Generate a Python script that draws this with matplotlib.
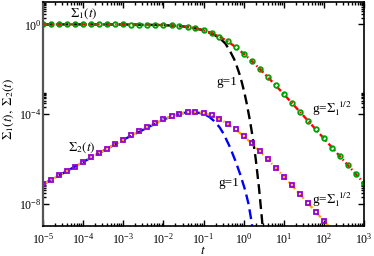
import matplotlib
matplotlib.use("Agg")
import matplotlib.pyplot as plt
from matplotlib.ticker import FixedLocator, LogLocator, NullFormatter, LogFormatterMathtext

plt.rcParams['font.family'] = 'serif'
plt.rcParams['font.serif'] = ['Liberation Serif', 'DejaVu Serif']
plt.rcParams['mathtext.fontset'] = 'stix'

# ---- data ----
# sampling times for markers / dash-dot curves (g = Sigma_1^{1/2})
t_pts = [1e-5, 1.6e-5, 2.5e-5, 4e-5, 6.3e-5,
         1e-4, 1.6e-4, 2.5e-4, 4e-4, 6.3e-4,
         1e-3, 1.6e-3, 2.5e-3, 4e-3, 6.3e-3,
         1e-2, 1.6e-2, 2.5e-2, 4e-2, 6.3e-2,
         0.1, 0.16, 0.25, 0.4, 0.63,
         1.0, 1.6, 2.5, 4.0, 6.3,
         10, 16, 25, 40, 63,
         100, 160, 250, 400, 630, 1000]
sigma1_sqrt = [1.0, 1.0, 1.0, 1.0, 1.0,
               1.0, 0.999, 0.998, 0.997, 0.996,
               0.993, 0.989, 0.983, 0.972, 0.957,
               0.934, 0.897, 0.846, 0.769, 0.671,
               0.549, 0.411, 0.284, 0.174, 0.0974,
               0.0494, 0.0230, 0.0105, 4.44e-3, 1.88e-3,
               7.72e-4, 3.08e-4, 1.277e-4, 5.03e-5, 2.04e-5,
               8.12e-6, 3.18e-6, 1.30e-6, 5.09e-7, 2.05e-7, 8.16e-8]
sigma2_sqrt = [7.2e-8, 1.15e-7, 1.8e-7, 2.88e-7, 4.53e-7,
               7.19e-7, 1.15e-6, 1.79e-6, 2.86e-6, 4.48e-6,
               7.03e-6, 1.109e-5, 1.695e-5, 2.61e-5, 3.90e-5,
               5.69e-5, 7.95e-5, 1.021e-4, 1.205e-4, 1.247e-4,
               1.115e-4, 8.6e-5, 5.96e-5, 3.65e-5, 2.05e-5,
               1.04e-5, 4.83e-6, 2.21e-6, 9.32e-7, 3.95e-7,
               1.62e-7, 6.47e-8, 2.68e-8, 1.056e-8, 4.28e-9,
               1.7e-9, 6.7e-10, 2.7e-10, 1.07e-10, 4.3e-11, 1.7e-11]

# g = 1 curves
t_g1_s1 = [1e-5, 1e-4, 1e-3, 1e-2, 0.03, 0.06, 0.1, 0.17, 0.25, 0.35,
           0.46, 0.58, 0.68, 0.8, 0.9, 1.05, 1.2, 1.45, 1.7, 2.0, 2.4, 2.8, 3.1]
sigma1_g1 = [1.0, 1.0, 0.993, 0.932, 0.82, 0.68, 0.545, 0.37, 0.251, 0.141,
             0.0631, 0.0282, 0.0132, 5.62e-3, 2.63e-3, 8.7e-4, 2.82e-4, 4.68e-5,
             7.94e-6, 1.0e-6, 5.62e-8, 3.16e-9, 3.98e-10]
t_g1_s2 = [1e-5, 1e-4, 1e-3, 1e-2, 2.5e-2, 4e-2, 6.3e-2, 0.1, 0.14, 0.178,
           0.25, 0.316, 0.457, 0.617, 0.813, 1.096, 1.318, 1.585, 1.8]
sigma2_g1 = [7.2e-8, 7.19e-7, 7.03e-6, 5.69e-5, 1.02e-4, 1.19e-4, 1.21e-4,
             1.02e-4, 7.4e-5, 5.1e-5, 2.6e-5, 1.32e-5, 3.3e-6, 8.5e-7,
             2.14e-7, 3.9e-8, 1.0e-8, 1.48e-9, 2e-10]

x_major = [1e-5, 1e-4, 1e-3, 1e-2, 1e-1, 1e0, 1e1, 1e2, 1e3]
y_major = [1e-8, 1e-4, 1e0]

# ---- figure ----
fig = plt.figure(figsize=(3.74, 2.56), dpi=100)
ax = fig.add_axes([43/374, 1-226/256, (364-43)/374, (226-2)/256])
ax.set_xscale('log')
ax.set_yscale('log')
ax.set_xlim(1e-5, 1e3)
ax.set_ylim(1e-9, 1e1)

ax.plot(t_g1_s1, sigma1_g1, color='black', lw=1.7, dashes=(4.2, 2.2))
ax.plot(t_g1_s2, sigma2_g1, color='#0000ff', lw=1.7, dashes=(4.2, 2.2))
ax.plot(t_pts, sigma1_sqrt, color='#ff0000', lw=1.7, dashes=(2.4, 1.2, 0.6, 1.2))
ax.plot(t_pts, sigma2_sqrt, color='#ffa500', lw=1.7, dashes=(2.4, 1.2, 0.6, 1.2))
ax.plot(t_pts, sigma1_sqrt, ls='none', marker='o', ms=3.3, mfc='none',
        mec='#00a000', mew=1.3)
ax.plot(t_pts, sigma2_sqrt, ls='none', marker='s', ms=3.0, mfc='none',
        mec='#9400d3', mew=1.3)

# ticks
ax.xaxis.set_major_locator(FixedLocator(x_major))
ax.xaxis.set_minor_locator(LogLocator(base=10, subs=[2, 3, 4, 5, 6, 7, 8, 9], numticks=20))
ax.xaxis.set_major_formatter(LogFormatterMathtext())
ax.xaxis.set_minor_formatter(NullFormatter())
ax.yaxis.set_major_locator(FixedLocator(y_major))
ymin = [k * m for m in y_major for k in range(2, 10)]
ax.yaxis.set_minor_locator(FixedLocator(ymin))
ax.yaxis.set_major_formatter(LogFormatterMathtext())
ax.yaxis.set_minor_formatter(NullFormatter())
ax.tick_params(which='both', direction='in', top=True, right=True, width=1.0)
ax.tick_params(which='major', length=4.5, labelsize=8.5)
ax.tick_params(which='minor', length=2.3)
ax.tick_params(axis='x', which='major', pad=4)
ax.tick_params(axis='y', which='major', pad=1)

for s in ['top', 'bottom', 'right']:
    ax.spines[s].set_linewidth(1.2)
ax.spines['left'].set_linewidth(1.6)
ax.spines['left'].set_color('#555555')

# labels
fs = 9.5
ax.text(1.05e-4, 3.1, r'$\Sigma_1(t)$', fontsize=fs, ha='center', va='center')
ax.text(9.1e-5, 3.1e-6, r'$\Sigma_2(t)$', fontsize=fs, ha='center', va='center')
ax.text(0.377, 2.6e-3, 'g=1', fontsize=fs, ha='center', va='center')
ax.text(0.42, 7.9e-8, 'g=1', fontsize=fs, ha='center', va='center')
ax.text(161, 1.7e-4, r'g=$\Sigma_1^{\;\;1/2}$', fontsize=fs, ha='center', va='center')
ax.text(161, 1.47e-8, r'g=$\Sigma_1^{\;\;1/2}$', fontsize=fs, ha='center', va='center')

fig.text(8.5/374, 1-108.5/256, r'$\Sigma_1(t),\ \Sigma_2(t)$', rotation=90,
         fontsize=fs, ha='center', va='center')
fig.text(203/374, 1-251/256, r'$t$', fontsize=fs, ha='center', va='center')

fig.savefig('out.png', dpi=100)
